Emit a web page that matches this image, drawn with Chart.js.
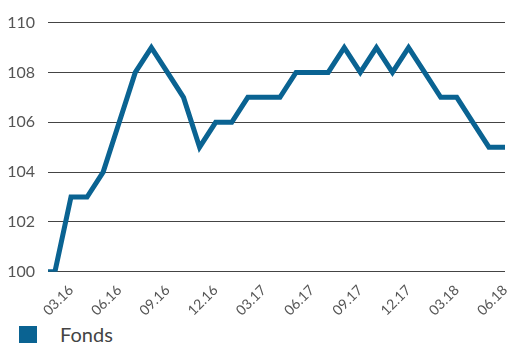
<!DOCTYPE html>
<html>
<head>
<meta charset="utf-8">
<script src="https://cdn.jsdelivr.net/npm/chart.js@4"></script>
<style>
  html, body { margin: 0; padding: 0; background: #fff; }
  #wrap { position: relative; width: 509px; height: 343px; overflow: hidden; }
  #chartBox { position: absolute; left: 0; top: 0; width: 509px; height: 321px; }
  #legend { position: absolute; left: 19px; top: 322px; font-family: Lato, sans-serif; font-size: 20px; color: #444; }
  #legend .box { position: absolute; left: 0; top: 4px; width: 18px; height: 18px; }
  #legend .txt { position: absolute; left: 41px; top: 0; white-space: nowrap; }
</style>
</head>
<body>
<div id="wrap">
  <div id="chartBox"><canvas id="fundChart"></canvas></div>
  <div id="legend"></div>
</div>
<script>
// months 01.16 .. 06.18
const months = [
  "01.16", "02.16", "03.16", "04.16", "05.16", "06.16", "07.16", "08.16", "09.16", "10.16", "11.16", "12.16",
  "01.17", "02.17", "03.17", "04.17", "05.17", "06.17", "07.17", "08.17", "09.17", "10.17", "11.17", "12.17",
  "01.18", "02.18", "03.18", "04.18", "05.18", "06.18"
];
const fondsValues = [
  100, 100, 103, 103, 104, 106, 108, 109, 108, 107, 105, 106,
  106, 107, 107, 107, 108, 108, 108, 109, 108, 109, 108, 109,
  108, 107, 107, 106, 105, 105
];
const tickLabels = ["03.16", "06.16", "09.16", "12.16", "03.17", "06.17", "09.17", "12.17", "03.18", "06.18"];
const yTicks = [100, 102, 104, 106, 108, 110];
const seriesName = "Fonds";
const lineColor = "#0a6392";

document.addEventListener("DOMContentLoaded", () => {
  const ctx = document.getElementById("fundChart").getContext("2d");

  new Chart(ctx, {
    type: "line",
    data: {
      datasets: [{
        label: seriesName,
        data: fondsValues.map((v, i) => ({ x: i, y: v })),
        borderColor: lineColor,
        backgroundColor: lineColor,
        borderWidth: 5,
        borderJoinStyle: "miter",
        pointRadius: 0,
        tension: 0
      }]
    },
    options: {
      responsive: true,
      maintainAspectRatio: false,
      animation: false,
      layout: { padding: { top: 12, right: 4, left: 0, bottom: 0 } },
      plugins: {
        legend: { display: false },
        tooltip: { enabled: false }
      },
      scales: {
        x: {
          type: "linear",
          min: 0.57,
          max: months.length - 1,
          afterBuildTicks: (scale) => {
            scale.ticks = tickLabels.map(l => ({ value: months.indexOf(l) }));
          },
          afterFit: (scale) => { scale.paddingRight = 0; },
          grid: { display: false },
          border: { display: false },
          ticks: {
            autoSkip: false,
            minRotation: 45,
            maxRotation: 45,
            padding: 2,
            color: "#555",
            font: { family: "Lato", size: 14 },
            callback: (v) => months[v]
          }
        },
        y: {
          min: 100,
          max: 110,
          afterBuildTicks: (scale) => {
            scale.ticks = yTicks.map(v => ({ value: v }));
          },
          afterFit: (scale) => { scale.width = 48; },
          grid: { color: "#444", lineWidth: 1, drawTicks: false },
          border: { display: false },
          ticks: {
            padding: 13,
            color: "#555",
            font: { family: "Lato", size: 16 }
          }
        }
      }
    }
  });

  const legend = document.getElementById("legend");
  legend.innerHTML = '<span class="box" style="background:' + lineColor + '"></span><span class="txt">' + seriesName + '</span>';
});
</script>
</body>
</html>
